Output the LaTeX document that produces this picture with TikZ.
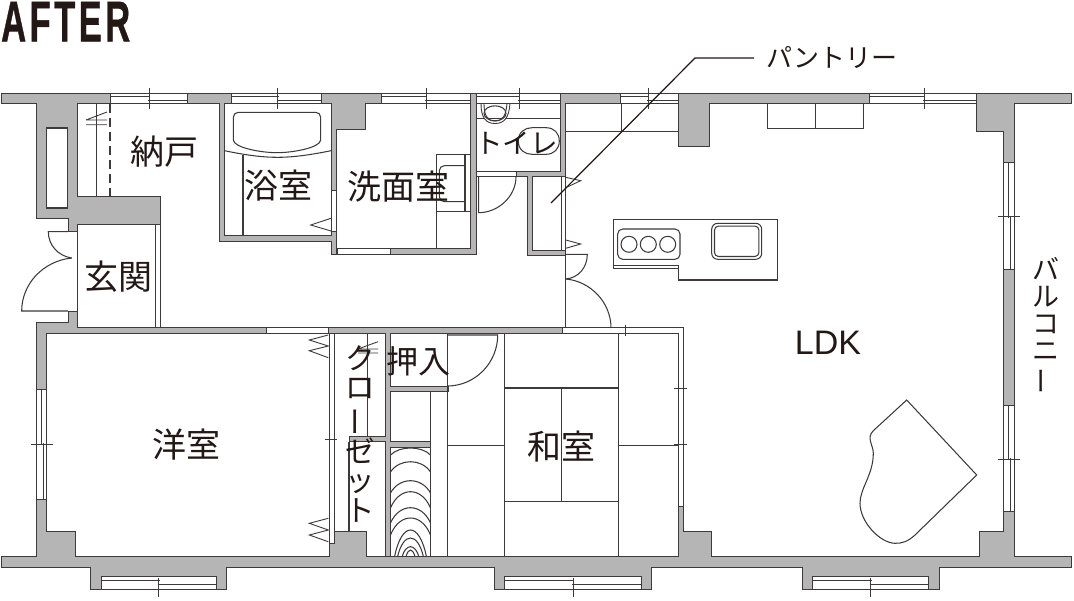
\documentclass[tikz,border=0pt]{standalone}
\usepackage{graphicx}
\usepackage{fontspec}
\setmainfont{Liberation Sans}
\newfontfamily\jpfont{Noto Sans CJK JP}
\newfontfamily\aftfont[BoldFeatures={FakeBold=1,LetterSpace=10}]{Liberation Sans}
\definecolor{wallgray}{HTML}{B5B5B6}
\definecolor{ink}{HTML}{3E3A39}
\definecolor{txt}{HTML}{231815}
\newcommand{\hwin}[3]{%
  \draw[glass] (#1,93.5) rectangle (#2,103.5);
  \draw[thinl] (#1,96.7) -- ({#3+1},96.7) ({#3-1},100) -- (#2,100);
  \draw[thinl] (#3,88) -- (#3,109);}
\newcommand{\bwin}[3]{%
  \draw[glass] (#1,576.7) rectangle (#2,589.3);
  \draw[thinl] (#1,580.7) -- ({#3+1},580.7) ({#3-1},584) -- (#2,584);
  \draw[thinl] (#3,578) -- (#3,597);}
\newcommand{\vwin}[5]{%
  \draw[glass] (#1,#3) rectangle (#2,#4);
  \draw[thinl] ({#1+4.5},#3) -- ({#1+4.5},{#5+1}) ({#1+6.5},{#5-1}) -- ({#1+6.5},#4);
  \draw[thinl] ({#1-6},#5) -- ({#2+6},#5);}
\newcommand{\jpsize}[2]{\jpfont\fontsize{#1}{#2}\selectfont}
\newcommand{\vbar}{\rotatebox[origin=c]{90}{ー}}
\tikzset{
  x=1pt,y=-1pt,
  wall/.style={fill=wallgray,draw=ink,line width=1pt,line join=miter},
  glass/.style={fill=white,draw=ink,line width=0.9pt},
  thinl/.style={draw=ink,line width=0.9pt},
  fix/.style={draw=ink,line width=1.05pt},
  room/.style={inner sep=0pt,text=txt,font=\jpsize{34}{34}},
}
\begin{document}
\begin{tikzpicture}
\fill[white] (0,0) rectangle (1074,600);
\useasboundingbox (0,0) rectangle (1074,600);

% walls
\draw[wall] (1,93.5) -- (110,93.5) -- (110,103.5) -- (77.3,103.5) -- (77.3,196.7) -- (160.5,196.7) -- (160.5,224) -- (77.3,224) -- (77.3,231.7) -- (68,231.7) -- (68,218) -- (36.7,218) -- (36.7,103.5) -- (1,103.5) -- cycle;
\draw[fix,fill=white] (46.3,128) rectangle (67.7,208);
\draw[wall] (187,93.5) -- (231.3,93.5) -- (231.3,103.5) -- (224.5,103.5) -- (224.5,235.7) -- (331,235.7) -- (331,231.7) -- (336,231.7) -- (336,254) -- (331,254) -- (331,241) -- (219.5,241) -- (219.5,103.5) -- (187,103.5) -- cycle;
\draw[wall] (321.7,93.5) -- (381,93.5) -- (381,103.5) -- (365,103.5) -- (365,129.3) -- (336,129.3) -- (336,190) -- (331,190) -- (331,103.5) -- (321.7,103.5) -- cycle;
\draw[wall] (390.7,248.3) -- (470.7,248.3) -- (470.7,93.5) -- (476,93.5) -- (476,254) -- (390.7,254) -- cycle;
\draw[wall] (516,171.7) -- (560.7,171.7) -- (560.7,93.5) -- (620.7,93.5) -- (620.7,103.5) -- (565.7,103.5) -- (565.7,176.7) -- (532.7,176.7) -- (532.7,250) -- (565.7,250) -- (565.7,255) -- (527.3,255) -- (527.3,176.7) -- (516,176.7) -- cycle;
\draw[wall] (678.3,93.5) -- (869.3,93.5) -- (869.3,103.5) -- (709,103.5) -- (709,146.7) -- (678.3,146.7) -- cycle;
\draw[wall] (976,93.5) -- (1071.5,93.5) -- (1071.5,103.5) -- (1014,103.5) -- (1014,162.7) -- (1003.7,162.7) -- (1003.7,131.7) -- (976,131.7) -- cycle;
\draw[wall] (1003.7,269) rectangle (1014,405);
\draw[wall] (68,311) -- (77.3,311) -- (77.3,327.3) -- (266.7,327.3) -- (266.7,333.3) -- (46.7,333.3) -- (46.7,389) -- (36.7,389) -- (36.7,322.7) -- (68,322.7) -- cycle;
\draw[wall] (328.3,327.3) -- (562.7,327.3) -- (562.7,333.3) -- (390.7,333.3) -- (390.7,386) -- (448.3,386) -- (448.3,391) -- (390.7,391) -- (390.7,441.7) -- (430.3,441.7) -- (430.3,447.3) -- (390.7,447.3) -- (390.7,556.7) -- (385,556.7) -- (385,441.7) -- (349,441.7) -- (349,436.7) -- (385,436.7) -- (385,333.3) -- (328.3,333.3) -- cycle;
\draw[wall] (1,556.7) -- (36.7,556.7) -- (36.7,499.3) -- (46.7,499.3) -- (46.7,531) -- (75,531) -- (75,556.7) -- (329.3,556.7) -- (329.3,531.7) -- (366,531.7) -- (366,556.7) -- (678.3,556.7) -- (678.3,506.7) -- (683.3,506.7) -- (683.3,531.7) -- (711.7,531.7) -- (711.7,556.7) -- (979,556.7) -- (979,531.7) -- (1003.7,531.7) -- (1003.7,511) -- (1014,511) -- (1014,556.7) -- (1071.5,556.7) -- (1071.5,567) -- (939,567) -- (939,589.3) -- (928.7,589.3) -- (928.7,576.7) -- (812.7,576.7) -- (812.7,589.3) -- (802.3,589.3) -- (802.3,567) -- (651.7,567) -- (651.7,589.3) -- (641.7,589.3) -- (641.7,576.7) -- (504.3,576.7) -- (504.3,589.3) -- (494,589.3) -- (494,567) -- (226.7,567) -- (226.7,589.3) -- (216.7,589.3) -- (216.7,576.7) -- (101,576.7) -- (101,589.3) -- (90.7,589.3) -- (90.7,567) -- (1,567) -- cycle;

% windows
\hwin{110}{187}{149}
\hwin{231.3}{321.7}{277.7}
\hwin{381}{470.7}{426}
\hwin{476}{560.7}{519.3}
\hwin{620.7}{678.3}{648.3}
\hwin{869.3}{976}{924}
\bwin{101}{216.7}{158.7}
\bwin{504.3}{641.7}{573.3}
\bwin{812.7}{928.7}{870.7}
\vwin{1003.7}{1014}{162.7}{269}{216.7}
\vwin{1003.7}{1014}{405}{511}{459}
\vwin{36.7}{46.7}{389}{499.3}{444}

% white door bands
\draw[glass] (266.7,327.3) rectangle (328.3,333.3);
\draw[glass] (331,190) rectangle (336,231.7);
\draw[glass] (337,248.3) rectangle (390.7,254);
\draw[glass] (476,171.7) rectangle (516,176.7);
\draw[thinl] (561,176.7) -- (561,250);
\draw[fix] (565.7,176.7) -- (565.7,328);
\draw[fix] (562.7,327.3) -- (683.3,327.3) -- (683.3,506.7);
\draw[fix] (562.7,333.3) -- (678.3,333.3) -- (678.3,506.7);
\draw[thinl] (625,325) -- (625,336) (674,388.3) -- (686.7,388.3) (674,444) -- (686.7,444);

% porch / entrance
\draw[fix] (77.3,224) -- (77.3,327.3) (155.7,224) -- (155.7,327.3) (160.5,224) -- (160.5,327.3);
\draw[fix] (68,231.7) -- (48.3,231.7) .. controls (48.3,245) and (58,256) .. (71.7,258);
\draw[fix] (71.7,258) .. controls (43,261) and (21.7,284) .. (21.7,311) -- (68,311);

% nando closet
\draw[fix] (96.3,103.5) -- (96.3,196.7);
\draw[fix,dash pattern=on 9pt off 5pt] (110,103.5) -- (110,196.7);
\draw[thinl] (86,120) -- (107,112) (86,120) -- (107,120) (86,124.7) -- (107,124.7);

% bath
\draw[fix,rounded corners=5pt] (233.3,140) -- (233.3,112.3) -- (320.7,112.3) -- (320.7,140);
\draw[fix] (233.3,140) .. controls (234,148) and (262,152.7) .. (277,152.7) .. controls (292,152.7) and (320,148) .. (320.7,140);
\draw[fix] (224.5,150.7) .. controls (250,156) and (265,157.3) .. (277.5,157.3) .. controls (290,157.3) and (305,156) .. (331,150.7);
\draw[fix] (243,155) -- (243,235.7);
\draw[thinl] (331,218.3) -- (310.7,225) -- (331,231);

% washroom
\draw[fix] (436.3,248.3) -- (436.3,154.7) -- (470.7,154.7);
\draw[fix] (436.3,211.7) -- (470.7,211.7) (465,154.7) -- (465,211.7);
\draw[fix,rounded corners=5pt] (465,165.7) -- (439.3,165.7) -- (439.3,201.7) -- (465,201.7);

% toilet
\draw[fix] (476,118.3) -- (560.7,118.3);
\draw[thinl,fill=white] (481,103.5) .. controls (481,118) and (486,123.5) .. (495,123.5) .. controls (504,123.5) and (509,118) .. (510,103.5) -- (507,103.5) .. controls (506,115) and (503,121) .. (495,121) .. controls (487,121) and (484,115) .. (484,103.5) -- cycle;
\draw[fix] (495,113.3) ellipse (11 and 7.5);
\draw[fix] (518.3,141) .. controls (518.3,132) and (525,127.7) .. (532,127.7) -- (546,127.7) .. controls (554,127.7) and (559.3,133) .. (559.3,141) .. controls (559.3,149) and (554,154.3) .. (546,154.3) -- (532,154.3) .. controls (525,154.3) and (518.3,150) .. (518.3,141) -- cycle;
\draw[fix] (478.7,176.7) -- (478.7,212.7) .. controls (498,212.7) and (516,196.6) .. (516,176.7);

% pantry
\draw[thinl] (565.7,177.3) -- (580.7,180.7) -- (565.7,187.7);
\draw[thinl] (565.7,240) -- (580.7,244) -- (565.7,248.3);

% ldk doors
\draw[fix] (565.7,254.3) -- (587.3,254.3) .. controls (587.3,268) and (578,278) .. (565.7,279);
\draw[fix] (565.7,279) .. controls (590,281) and (611,302) .. (611,328);

% ldk cabinet
\draw[fix] (565.7,131.7) -- (678.3,131.7) (621.7,103.5) -- (621.7,131.7);
\draw[fix] (767.7,103.5) -- (767.7,128.3) -- (863.3,128.3) -- (863.3,103.5) (815.7,103.5) -- (815.7,128.3);

% kitchen
\draw[fix] (613.3,268.7) -- (613.3,219.3) -- (777.7,219.3) -- (777.7,280) -- (678.3,280) -- (678.3,265.7) -- (613.3,265.7) (613.3,268.7) -- (678.3,268.7);
\draw[fix,rounded corners=5pt] (617.7,229) rectangle (680,259.3);
\draw[fix] (629,244.3) circle (8) (648.3,244.3) circle (8) (667.7,244.3) circle (8);
\draw[fix,rounded corners=6pt] (711.7,223.3) rectangle (761.7,259.3);
\draw[fix,rounded corners=4pt] (714.5,226.1) rectangle (758.9,256.5);

% piano
\draw[fix] (906.7,400) -- (976.7,475) -- (915,535) .. controls (908,541.5) and (902,543.5) .. (895,543.3) .. controls (880,543) and (860,522) .. (860,503.3) .. controls (860,488) and (873.3,475) .. (873.3,453.3) .. controls (873.3,445) and (866,438) .. (873.3,430.7) -- cycle;

% western room sliding doors
\draw[glass] (329.3,333.3) rectangle (334,543.3);
\draw[thinl] (325,439.3) -- (336.7,439.3);
\draw[thinl] (328.3,335) -- (309.3,340) -- (328.3,346) -- (309.3,350.7) -- (328.3,357.7);
\draw[thinl] (328.3,518.3) -- (309.3,523.3) -- (328.3,530) -- (309.3,535) -- (328.3,541.7);

% closet
\draw[fix] (367.7,333.3) -- (367.7,436.7);
\draw[fix,line width=1.2pt] (349,441.7) -- (349,531.7);
\draw[thinl] (358,349) -- (378,341.7) (358,349) -- (378,349) (358,353) -- (378,353);

% oshiire door
\draw[fix] (447.3,333.3) -- (447.3,556.7);
\draw[fix] (447.3,335) -- (497.7,335) .. controls (497.7,363) and (475,386) .. (447.3,386);
\draw[fix] (430.3,391) -- (430.3,556.7);

% storage pattern
\begin{scope}
\clip (390.7,447.3) rectangle (430.3,556.7);
\foreach \p/\s/\w in {448/455/20,461.7/472/20,480.7/493/20,491.7/508/20,507.7/523/20,518/535/20,530/557/16,538/557/13,546.7/557/8.5,550/557/4.5}
  \draw[fix] ({410.5-\w},\s) .. controls ({410.5-\w*0.55},{\p-(\s-\p)/3}) and ({410.5+\w*0.55},{\p-(\s-\p)/3}) .. ({410.5+\w},\s);
\end{scope}

% tatami
\draw[fix] (504.3,333.3) -- (504.3,556.7) (618.3,333.3) -- (618.3,556.7);
\draw[fix] (504.3,388) -- (618.3,388) (504.3,501.7) -- (618.3,501.7) (561.3,388) -- (561.3,501.7);
\draw[fix] (447.3,445.7) -- (504.3,445.7) (618.3,445.7) -- (678.3,445.7);

% labels
\node[room,anchor=south west] (after) at (1,41.5) {\resizebox{129pt}{39.5pt}{\aftfont\bfseries AFTER}};
\node[room] (nando) at (164,152) {納戸};
\node[room] (yoku) at (278,186) {浴室};
\node[room] (senmen) at (398,187) {洗面室};
\node[room,font=\jpsize{27.5}{27.5}] (toilet) at (516.5,143) {トイレ};
\node[room] (genkan) at (118,277) {玄関};
\node[room,font=\jpsize{32}{32}] (oshiire) at (418,361) {押入};
\node[room] (washitsu) at (561,447) {和室};
\node[room] (yoshitsu) at (186,445) {洋室};
\node[room,font=\fontsize{34}{34}\selectfont] (ldk) at (828,343) {LDK};
\node[room,font=\jpsize{26}{26}] (pantry) at (832,58) {パントリー};
\node[room,font=\jpsize{27}{27},align=center] (balcony) at (1046,326) {バ\\ル\\コ\\ニ\\\vbar};
\node[room,font=\jpsize{29.5}{29.5},align=center] (closet) at (360,434) {ク\\ロ\\\vbar\\ゼ\\ッ\\ト};

% leader
\coordinate (leadend) at (551,203);
\coordinate (leadbend) at (695,58);
\draw[fix,line width=1.2pt,draw=txt] (leadend) -- (leadbend) -- (754,58);
\end{tikzpicture}
\end{document}
